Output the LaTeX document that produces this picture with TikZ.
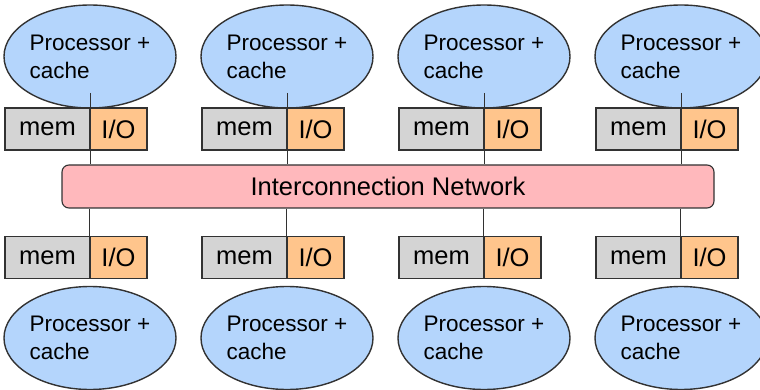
\documentclass[tikz,border=0pt]{standalone}
\usepackage{fontspec}
\setmainfont{Liberation Sans}
\usetikzlibrary{shapes.geometric}

\definecolor{procblue}{RGB}{180,213,252}
\definecolor{memgray}{RGB}{212,212,212}
\definecolor{ioorange}{RGB}{255,197,140}
\definecolor{netpink}{RGB}{255,184,188}
\definecolor{edgegray}{RGB}{50,50,50}

\begin{document}
\begin{tikzpicture}[x=1pt,y=-1pt,
  proc/.style={ellipse, draw=edgegray, line width=1.4pt, fill=procblue,
    minimum width=172pt, minimum height=103pt, inner sep=0pt, align=left,
    font=\fontsize{22.5}{28}\selectfont},
  membox/.style={rectangle, draw=edgegray, line width=1.1pt, fill=memgray,
    minimum width=85pt, minimum height=42pt, inner sep=0pt,
    font=\fontsize{25.5}{28}\selectfont},
  iobox/.style={membox, fill=ioorange, minimum width=57pt},
  netbox/.style={rectangle, rounded corners=7pt, draw=edgegray, line width=1.1pt,
    fill=netpink, minimum width=652pt, minimum height=43pt, inner sep=0pt,
    font=\fontsize{25.5}{28}\selectfont},
  wire/.style={draw=edgegray, line width=0.9pt}]
\useasboundingbox (0,0) rectangle (760,390);
\clip (0,0) rectangle (760,390);

% shared interconnect
\node[netbox] (net) at (388,186.5) {Interconnection Network};

\foreach \i in {0,1,2,3} {
  % upper row: processor above its memory and I/O
  \node[proc] (pt\i) at ({90+197*\i},56.5) {Processor +\\cache};
  \node[membox] (mt\i) at ({47.5+197*\i},129) {mem};
  \node[iobox]  (it\i) at ({118.5+197*\i},129) {I/O};
  \coordinate (st\i) at ({90+197*\i},93);
  \draw[wire] (st\i) -- (st\i |- net.north);

  % lower row: memory and I/O above the processor
  \node[proc] (pb\i) at ({90+197*\i},338) {Processor +\\cache};
  \node[membox] (mb\i) at ({47.5+197*\i},257.5) {mem};
  \node[iobox]  (ib\i) at ({118.5+197*\i},257.5) {I/O};
  \draw[wire] (net.south -| ib\i.north west) -- (ib\i.north west);
}
\end{tikzpicture}
\end{document}
